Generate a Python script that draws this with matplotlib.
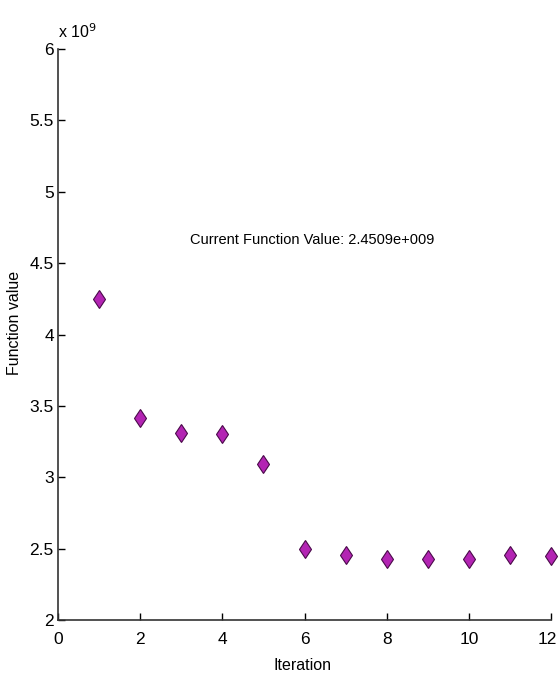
import matplotlib.pyplot as plt
from matplotlib.transforms import ScaledTranslation

iterations = [1, 2, 3, 4, 5, 6, 7, 8, 9, 10, 11, 12]
values = [4.25, 3.415, 3.31, 3.30, 3.09, 2.50, 2.455, 2.43, 2.43, 2.43, 2.455, 2.4509]  # x 1e9

xticks = [0, 2, 4, 6, 8, 10, 12]
yticks = [2, 2.5, 3, 3.5, 4, 4.5, 5, 5.5, 6]
ytick_labels = ['2', '2.5', '3', '3.5', '4', '4.5', '5', '5.5', '6']

plt.rcParams['font.family'] = ['Liberation Sans Narrow', 'Liberation Sans', 'DejaVu Sans']

fig = plt.figure(figsize=(5.59, 6.77), dpi=100)
ax = fig.add_axes([0.1038, 0.0842, 0.882, 0.8434])

ax.plot(iterations, values, linestyle='none', marker='d', markersize=9.5, clip_on=False,
        markerfacecolor='#b324b3', markeredgecolor='#4a0a4a', markeredgewidth=0.8)

ax.set_xlim(0, 12)
ax.set_ylim(2, 6)
ax.set_xticks(xticks)
ax.set_yticks(yticks)
ax.set_yticklabels(ytick_labels)
ax.tick_params(direction='in', length=5, labelsize=12.5, width=1)
ax.tick_params(axis='x', pad=9)
ax.tick_params(axis='y', pad=3)
ax.spines['top'].set_visible(False)
ax.spines['right'].set_visible(False)
for s in ['left', 'bottom']:
    ax.spines[s].set_linewidth(1.2)
    ax.spines[s].set_color('#333333')

# keep the last x tick label inside the figure
last = ax.get_xticklabels()[-1]
last.set_transform(last.get_transform() + ScaledTranslation(-3 / 72, 0, fig.dpi_scale_trans))

ax.text(3.2, 4.66, 'Current Function Value: 2.4509e+009', fontsize=10.5, va='center')
ax.text(0.0, 1.014, r'x 10$^9$', transform=ax.transAxes, fontsize=11.5, va='bottom')

ax.set_xlabel('Iteration', fontsize=11.5)
ax.set_ylabel('Function value', fontsize=11.5)
ax.xaxis.set_label_coords(0.495, -0.066)
ax.yaxis.set_label_coords(-0.073, 0.52)

fig.savefig('out.png', dpi=100)
